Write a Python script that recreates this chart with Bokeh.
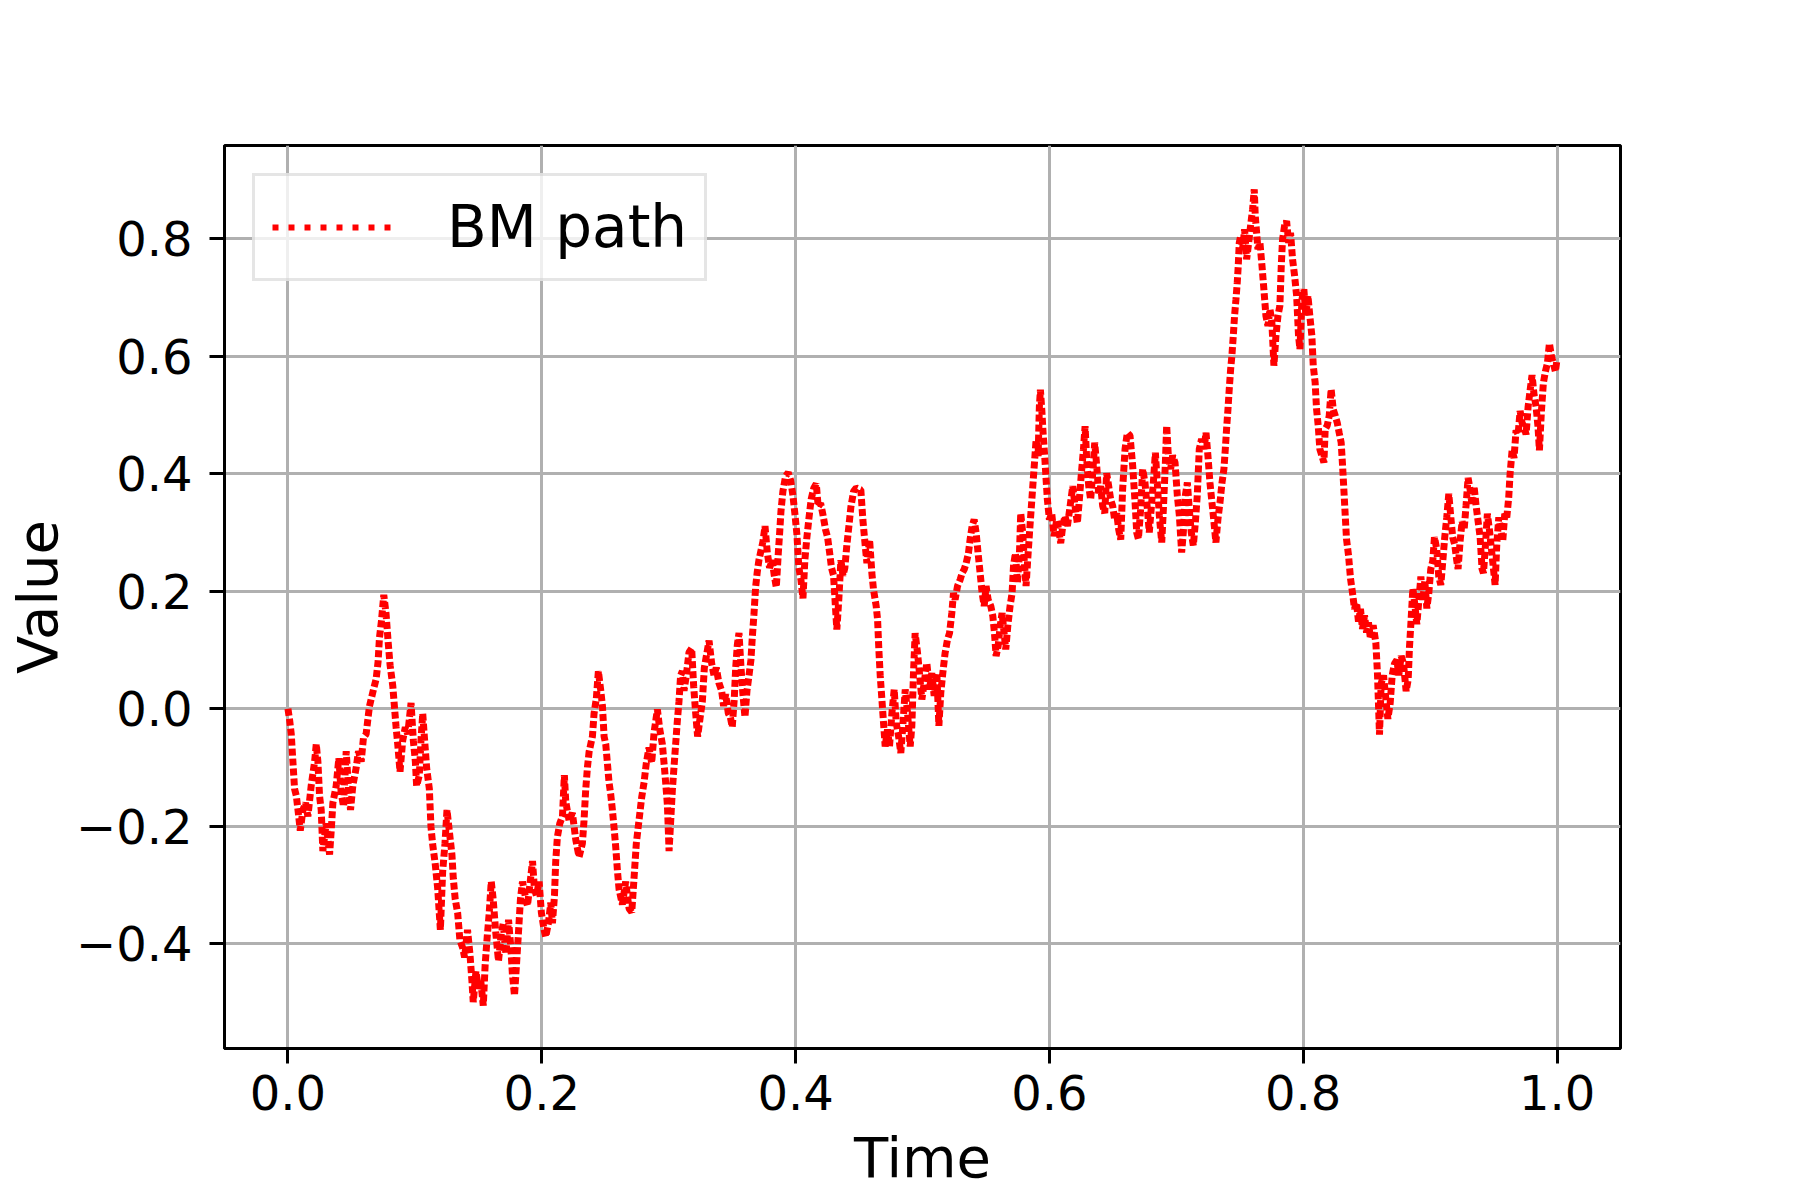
from bokeh.plotting import figure
from bokeh.models import Range1d, FixedTicker, Legend, LegendItem
from bokeh.embed import file_html
from bokeh.resources import INLINE

# ---- data ----
time = [
    0.0000, 0.0013, 0.0026, 0.0039, 0.0052, 0.0066, 0.0079, 0.0097, 0.0118, 0.0139,
    0.0157, 0.0183, 0.0210, 0.0223, 0.0236, 0.0249, 0.0262, 0.0275, 0.0301, 0.0328,
    0.0341, 0.0354, 0.0380, 0.0401, 0.0419, 0.0438, 0.0459, 0.0477, 0.0493, 0.0511,
    0.0537, 0.0556, 0.0577, 0.0595, 0.0616, 0.0629, 0.0642, 0.0655, 0.0674, 0.0695,
    0.0710, 0.0721, 0.0737, 0.0755, 0.0773, 0.0789, 0.0805, 0.0826, 0.0839, 0.0852,
    0.0865, 0.0883, 0.0904, 0.0925, 0.0944, 0.0970, 0.0988, 0.1004, 0.1014, 0.1035,
    0.1048, 0.1062, 0.1077, 0.1093, 0.1114, 0.1127, 0.1140, 0.1161, 0.1180, 0.1201,
    0.1219, 0.1237, 0.1253, 0.1271, 0.1292, 0.1303, 0.1318, 0.1337, 0.1355, 0.1376,
    0.1392, 0.1415, 0.1434, 0.1450, 0.1460, 0.1481, 0.1502, 0.1520, 0.1539, 0.1554,
    0.1570, 0.1586, 0.1602, 0.1617, 0.1638, 0.1659, 0.1678, 0.1696, 0.1717, 0.1738,
    0.1756, 0.1769, 0.1785, 0.1801, 0.1816, 0.1832, 0.1848, 0.1869, 0.1887, 0.1906,
    0.1927, 0.1942, 0.1958, 0.1979, 0.1997, 0.2018, 0.2031, 0.2052, 0.2071, 0.2084,
    0.2100, 0.2110, 0.2123, 0.2142, 0.2163, 0.2178,
    0.2189, 0.2215, 0.2241, 0.2268, 0.2294, 0.2320, 0.2333, 0.2346, 0.2360, 0.2373,
    0.2399, 0.2412, 0.2430, 0.2446, 0.2465, 0.2478, 0.2491, 0.2504, 0.2517, 0.2530,
    0.2543, 0.2556, 0.2570, 0.2583, 0.2596, 0.2609, 0.2635, 0.2661, 0.2688, 0.2709,
    0.2727, 0.2745, 0.2766, 0.2787, 0.2806, 0.2824, 0.2845, 0.2866, 0.2885, 0.2911,
    0.2929, 0.2950, 0.2966, 0.2976, 0.2990, 0.3003, 0.3016, 0.3029, 0.3042, 0.3055,
    0.3068, 0.3081, 0.3094, 0.3108, 0.3121, 0.3139, 0.3160, 0.3181, 0.3197, 0.3213,
    0.3228, 0.3244, 0.3265, 0.3281, 0.3297, 0.3318, 0.3339, 0.3357, 0.3375, 0.3396,
    0.3417, 0.3433, 0.3449, 0.3470, 0.3486, 0.3501, 0.3517, 0.3528, 0.3541, 0.3554,
    0.3570, 0.3585, 0.3601, 0.3617, 0.3633, 0.3648, 0.3659, 0.3672, 0.3685, 0.3698,
    0.3711, 0.3724, 0.3743, 0.3759, 0.3777, 0.3795, 0.3816, 0.3832, 0.3848, 0.3864,
    0.3874, 0.3885, 0.3900, 0.3921, 0.3942, 0.3961, 0.3979, 0.3995, 0.4010, 0.4026,
    0.4042, 0.4058, 0.4073, 0.4089, 0.4105, 0.4123, 0.4144, 0.4163, 0.4178, 0.4197,
    0.4215, 0.4236, 0.4252, 0.4268, 0.4283, 0.4299, 0.4310, 0.4325, 0.4341, 0.4357,
    0.4373, 0.4388, 0.4404, 0.4420, 0.4436, 0.4457, 0.4478,
    0.4514, 0.4530, 0.4549, 0.4562, 0.4583, 0.4601, 0.4614, 0.4635, 0.4646, 0.4656,
    0.4667, 0.4680, 0.4693, 0.4706, 0.4724, 0.4740, 0.4759, 0.4777, 0.4793, 0.4811,
    0.4829, 0.4845, 0.4864, 0.4882, 0.4903, 0.4916, 0.4929, 0.4942, 0.4961, 0.4976,
    0.4995, 0.5013, 0.5034, 0.5055, 0.5073, 0.5092, 0.5113, 0.5129, 0.5144, 0.5160,
    0.5178, 0.5197, 0.5213, 0.5231, 0.5244, 0.5257, 0.5276, 0.5297, 0.5312, 0.5328,
    0.5344, 0.5362, 0.5375, 0.5391, 0.5407, 0.5423, 0.5438, 0.5454, 0.5470, 0.5486,
    0.5501, 0.5517, 0.5538, 0.5554, 0.5567, 0.5580, 0.5596, 0.5612, 0.5627, 0.5643,
    0.5656, 0.5672, 0.5690, 0.5706, 0.5717, 0.5732, 0.5748, 0.5764, 0.5774, 0.5790,
    0.5803, 0.5816, 0.5829, 0.5843, 0.5858, 0.5869, 0.5882, 0.5895, 0.5911, 0.5921,
    0.5929, 0.5940, 0.5950, 0.5963, 0.5974, 0.5984, 0.6000, 0.6018, 0.6037, 0.6058,
    0.6073, 0.6089, 0.6105, 0.6123, 0.6142, 0.6163, 0.6184, 0.6202, 0.6220, 0.6236,
    0.6252, 0.6268, 0.6281, 0.6294, 0.6310, 0.6325, 0.6341, 0.6357, 0.6373, 0.6388,
    0.6404, 0.6420, 0.6436, 0.6451, 0.6467, 0.6483, 0.6499, 0.6514, 0.6530, 0.6546,
    0.6562,
    0.6577, 0.6596, 0.6614, 0.6635, 0.6656, 0.6675, 0.6688, 0.6701, 0.6719, 0.6735,
    0.6753, 0.6772, 0.6787, 0.6806, 0.6819, 0.6835, 0.6850, 0.6866, 0.6885, 0.6898,
    0.6913, 0.6924, 0.6937, 0.6955, 0.6971, 0.6990, 0.7008, 0.7024, 0.7042, 0.7055,
    0.7071, 0.7087, 0.7102, 0.7118, 0.7134, 0.7150, 0.7165, 0.7181, 0.7199, 0.7218,
    0.7234, 0.7249, 0.7265, 0.7281, 0.7297, 0.7312, 0.7328, 0.7344, 0.7360, 0.7375,
    0.7386, 0.7396, 0.7407, 0.7417, 0.7428, 0.7438, 0.7449, 0.7459, 0.7470, 0.7480,
    0.7488, 0.7496, 0.7507, 0.7522, 0.7538, 0.7554, 0.7570, 0.7585, 0.7601, 0.7614,
    0.7622, 0.7633, 0.7643, 0.7659, 0.7675, 0.7690, 0.7706, 0.7722, 0.7738, 0.7753,
    0.7769, 0.7785, 0.7801, 0.7816, 0.7827, 0.7837, 0.7853, 0.7869, 0.7885, 0.7900,
    0.7916, 0.7932, 0.7948, 0.7963, 0.7974, 0.7990, 0.8005, 0.8021, 0.8037, 0.8052,
    0.8068, 0.8079, 0.8094, 0.8105, 0.8118, 0.8131, 0.8147, 0.8163, 0.8173, 0.8189,
    0.8205, 0.8220, 0.8236, 0.8252, 0.8268, 0.8283, 0.8299, 0.8310, 0.8320, 0.8331,
    0.8341, 0.8357, 0.8373, 0.8388, 0.8404, 0.8420, 0.8436, 0.8451, 0.8467, 0.8483,
    0.8499, 0.8514, 0.8530, 0.8551, 0.8572, 0.8585,
    0.8601, 0.8614, 0.8633, 0.8648, 0.8667, 0.8685, 0.8701, 0.8719, 0.8738, 0.8753,
    0.8772, 0.8790, 0.8811, 0.8827, 0.8837, 0.8848, 0.8864, 0.8879, 0.8895, 0.8911,
    0.8927, 0.8942, 0.8958, 0.8974, 0.8990, 0.9005, 0.9021, 0.9034, 0.9052, 0.9068,
    0.9084, 0.9100, 0.9115, 0.9131, 0.9147, 0.9163, 0.9178, 0.9194, 0.9210, 0.9220,
    0.9236, 0.9252, 0.9268, 0.9283, 0.9299, 0.9315, 0.9331, 0.9346, 0.9362, 0.9378,
    0.9394, 0.9409, 0.9420, 0.9436, 0.9451, 0.9467, 0.9483, 0.9499, 0.9512, 0.9525,
    0.9541, 0.9556, 0.9572, 0.9588, 0.9604, 0.9619, 0.9630, 0.9646, 0.9661, 0.9677,
    0.9693, 0.9709, 0.9724, 0.9740, 0.9756, 0.9772, 0.9787, 0.9803, 0.9819, 0.9835,
    0.9850, 0.9861, 0.9877, 0.9892, 0.9908, 0.9924, 0.9940, 0.9955, 0.9971, 0.9987,
    1.0000,
]

bm_value = [
    0.000, -0.019, -0.043, -0.090, -0.136, -0.148, -0.172, -0.207, -0.172, -0.160,
    -0.183, -0.131, -0.090, -0.060, -0.090, -0.148, -0.172, -0.242, -0.195, -0.248,
    -0.207, -0.160, -0.131, -0.084, -0.142, -0.166, -0.072, -0.136, -0.172, -0.131,
    -0.101, -0.072, -0.090, -0.049, -0.043, -0.019, 0.004, 0.016, 0.033, 0.051,
    0.080, 0.121, 0.150, 0.194, 0.162, 0.115, 0.074, 0.039, 0.004, -0.031,
    -0.060, -0.107, -0.054, -0.031, -0.043, 0.010, -0.054, -0.090, -0.131, -0.113,
    -0.054, -0.008, -0.054, -0.101, -0.136, -0.201, -0.230, -0.265, -0.306, -0.376,
    -0.277, -0.230, -0.172, -0.207, -0.248, -0.289, -0.324, -0.347, -0.394, -0.406,
    -0.423, -0.376, -0.417, -0.464, -0.499, -0.447, -0.476, -0.464, -0.505, -0.435,
    -0.388, -0.347, -0.294, -0.324, -0.382, -0.429, -0.388, -0.365, -0.417, -0.359,
    -0.406, -0.453, -0.488, -0.435, -0.382, -0.324, -0.294, -0.318, -0.335, -0.300,
    -0.259, -0.306, -0.318, -0.294, -0.347, -0.376, -0.388, -0.365, -0.330, -0.365,
    -0.318, -0.259, -0.218, -0.195, -0.183, -0.113,
    -0.158, -0.190, -0.177, -0.223, -0.252, -0.229, -0.190, -0.138, -0.099, -0.073,
    -0.047, -0.008, 0.018, 0.064, 0.031, 0.005, -0.047, -0.060, -0.092, -0.125,
    -0.145, -0.171, -0.203, -0.236, -0.275, -0.307, -0.333, -0.294, -0.340, -0.346,
    -0.288, -0.229, -0.190, -0.151, -0.125, -0.092, -0.066, -0.092, -0.040, -0.001,
    -0.034, -0.060, -0.099, -0.125, -0.164, -0.242, -0.190, -0.138, -0.099, -0.060,
    -0.021, 0.012, 0.057, 0.064, 0.031, 0.057, 0.096, 0.103, 0.038, -0.008,
    -0.047, -0.021, 0.012, 0.070, 0.090, 0.116, 0.077, 0.057, 0.070, 0.044,
    0.031, 0.005, 0.025, -0.008, -0.014, -0.031, 0.018, 0.070, 0.109, 0.129,
    0.070, 0.025, -0.014, 0.031, 0.057, 0.083, 0.122, 0.161, 0.207, 0.233,
    0.253, 0.266, 0.285, 0.311, 0.266, 0.240, 0.253, 0.227, 0.207, 0.266,
    0.298, 0.337, 0.370, 0.396, 0.402, 0.389, 0.363, 0.331, 0.298, 0.240,
    0.220, 0.188, 0.253, 0.292, 0.324, 0.357, 0.376, 0.383, 0.344, 0.350,
    0.331, 0.305, 0.292, 0.266, 0.240, 0.227, 0.188, 0.135, 0.188, 0.253,
    0.227, 0.240, 0.279, 0.311, 0.344, 0.370, 0.376,
    0.373, 0.322, 0.277, 0.248, 0.288, 0.231, 0.203, 0.175, 0.152, 0.101,
    0.056, 0.016, -0.024, -0.064, -0.035, -0.064, -0.007, 0.033, -0.024, -0.046,
    -0.075, -0.029, 0.033, -0.007, -0.064, -0.029, 0.061, 0.129, 0.095, 0.061,
    0.016, 0.044, 0.078, 0.033, 0.061, 0.022, 0.061, -0.029, 0.027, 0.061,
    0.095, 0.118, 0.129, 0.163, 0.197, 0.186, 0.209, 0.220, 0.231, 0.237,
    0.248, 0.265, 0.288, 0.311, 0.322, 0.299, 0.265, 0.231, 0.197, 0.175,
    0.209, 0.186, 0.175, 0.158, 0.129, 0.090, 0.107, 0.141, 0.163, 0.129,
    0.101, 0.141, 0.175, 0.197, 0.243, 0.265, 0.214, 0.265, 0.333, 0.299,
    0.248, 0.209, 0.254, 0.299, 0.345, 0.379, 0.418, 0.458, 0.430, 0.515,
    0.543, 0.509, 0.470, 0.430, 0.390, 0.356, 0.322, 0.333, 0.294, 0.322,
    0.305, 0.282, 0.311, 0.328, 0.311, 0.345, 0.379, 0.345, 0.316, 0.356,
    0.401, 0.441, 0.481, 0.424, 0.379, 0.356, 0.401, 0.453, 0.413, 0.367,
    0.379, 0.345, 0.333, 0.401, 0.379, 0.356, 0.345, 0.322, 0.333, 0.305,
    0.288,
    0.374, 0.442, 0.470, 0.465, 0.414, 0.351, 0.300, 0.289, 0.340, 0.408,
    0.385, 0.340, 0.300, 0.351, 0.385, 0.436, 0.385, 0.329, 0.283, 0.340,
    0.414, 0.482, 0.431, 0.408, 0.431, 0.419, 0.363, 0.329, 0.266, 0.300,
    0.363, 0.385, 0.340, 0.300, 0.278, 0.317, 0.363, 0.442, 0.459, 0.442,
    0.470, 0.431, 0.385, 0.351, 0.317, 0.283, 0.323, 0.351, 0.385, 0.408,
    0.442, 0.476, 0.510, 0.544, 0.578, 0.601, 0.635, 0.669, 0.697, 0.725,
    0.754, 0.793, 0.805, 0.782, 0.816, 0.765, 0.793, 0.822, 0.850, 0.884,
    0.839, 0.810, 0.782, 0.793, 0.754, 0.714, 0.669, 0.652, 0.680, 0.657,
    0.584, 0.635, 0.669, 0.686, 0.754, 0.799, 0.822, 0.830, 0.793, 0.810,
    0.765, 0.737, 0.703, 0.635, 0.612, 0.697, 0.714, 0.669, 0.703, 0.669,
    0.635, 0.584, 0.555, 0.510, 0.482, 0.442, 0.431, 0.419, 0.476, 0.482,
    0.499, 0.544, 0.510, 0.499, 0.487, 0.470, 0.453, 0.414, 0.374, 0.329,
    0.289, 0.261, 0.221, 0.198, 0.170, 0.181, 0.147, 0.170, 0.136, 0.159,
    0.130, 0.147, 0.119, 0.142, 0.113, 0.060,
    -0.044, 0.043, 0.057, 0.023, -0.017, 0.009, 0.057, 0.077, 0.083, 0.057,
    0.090, 0.077, 0.030, 0.050, 0.104, 0.144, 0.205, 0.178, 0.144, 0.184,
    0.225, 0.184, 0.218, 0.171, 0.198, 0.238, 0.252, 0.292, 0.272, 0.225,
    0.211, 0.252, 0.292, 0.326, 0.366, 0.326, 0.292, 0.279, 0.252, 0.238,
    0.285, 0.319, 0.305, 0.346, 0.393, 0.373, 0.346, 0.379, 0.346, 0.319,
    0.292, 0.238, 0.231, 0.279, 0.332, 0.305, 0.272, 0.238, 0.211, 0.279,
    0.326, 0.305, 0.285, 0.332, 0.326, 0.359, 0.400, 0.440, 0.427, 0.474,
    0.467, 0.507, 0.487, 0.480, 0.467, 0.514, 0.541, 0.568, 0.534, 0.514,
    0.480, 0.440, 0.507, 0.554, 0.574, 0.588, 0.622, 0.601, 0.588, 0.574,
    0.595,
]

x_ticks = [0.0, 0.2, 0.4, 0.6, 0.8, 1.0]
x_tick_labels = ["0.0", "0.2", "0.4", "0.6", "0.8", "1.0"]
y_ticks = [-0.4, -0.2, 0.0, 0.2, 0.4, 0.6, 0.8]
y_tick_labels = ["\u22120.4", "\u22120.2", "0.0", "0.2", "0.4", "0.6", "0.8"]
series_label = "BM path"

FONT = "DejaVu Sans"
RED = "#ff0000"

p = figure(
    width=1784, height=1192,
    x_range=Range1d(-0.05, 1.05), y_range=Range1d(-0.578, 0.9587),
    output_backend="svg", toolbar_location=None,
    min_border_left=224, min_border_right=164,
    min_border_top=145, min_border_bottom=143,
)
p.background_fill_color = "white"
p.border_fill_color = "white"
p.outline_line_color = "black"
p.outline_line_width = 3

# the path itself (dense dotted line, as the many-point original appears)
p.line(time, bm_value, line_color=RED, line_width=7, line_dash="7 3")
# legend key: a one-point line (draws no segment) carrying the legend's dotted style
key = p.line(time[:1], bm_value[:1], line_color=RED, line_width=6, line_dash="6 10")

p.xaxis.ticker = FixedTicker(ticks=x_ticks)
p.yaxis.ticker = FixedTicker(ticks=y_ticks)
p.xaxis.major_label_overrides = {t: l for t, l in zip(x_ticks, x_tick_labels)}
p.yaxis.major_label_overrides = {t: l for t, l in zip(y_ticks, y_tick_labels)}

for ax in (p.xaxis, p.yaxis):
    ax.axis_line_color = "black"
    ax.axis_line_width = 3
    ax.major_tick_line_color = "black"
    ax.major_tick_line_width = 3
    ax.major_tick_out = 15
    ax.major_tick_in = 0
    ax.minor_tick_line_color = None
    ax.major_label_text_font = FONT
    ax.major_label_text_font_size = "48px"
    ax.major_label_text_color = "black"
    ax.axis_label_text_font = FONT
    ax.axis_label_text_font_size = "56px"
    ax.axis_label_text_font_style = "normal"
    ax.axis_label_text_color = "black"

p.xaxis.axis_label = "Time"
p.yaxis.axis_label = "Value"
p.xaxis.major_label_standoff = 11
p.yaxis.major_label_standoff = 17
p.xaxis.axis_label_standoff = 12
p.yaxis.axis_label_standoff = 3

p.grid.grid_line_color = "#b0b0b0"
p.grid.grid_line_width = 3
p.xgrid.ticker = FixedTicker(ticks=x_ticks)
p.ygrid.ticker = FixedTicker(ticks=y_ticks)

lg = Legend(items=[LegendItem(label=series_label, renderers=[key])])
lg.location = "top_left"
lg.margin = 28
lg.padding = 17
lg.spacing = 0
lg.glyph_width = 123
lg.glyph_height = 60
lg.label_height = 60
lg.label_standoff = 52
lg.label_text_font = FONT
lg.label_text_font_size = "58px"
lg.label_text_color = "black"
lg.label_text_baseline = "middle"
lg.border_line_color = "#cccccc"
lg.border_line_width = 3
lg.background_fill_color = "white"
lg.background_fill_alpha = 0.8
p.add_layout(lg, "center")

open("out.html", "w").write(file_html(p, INLINE))
